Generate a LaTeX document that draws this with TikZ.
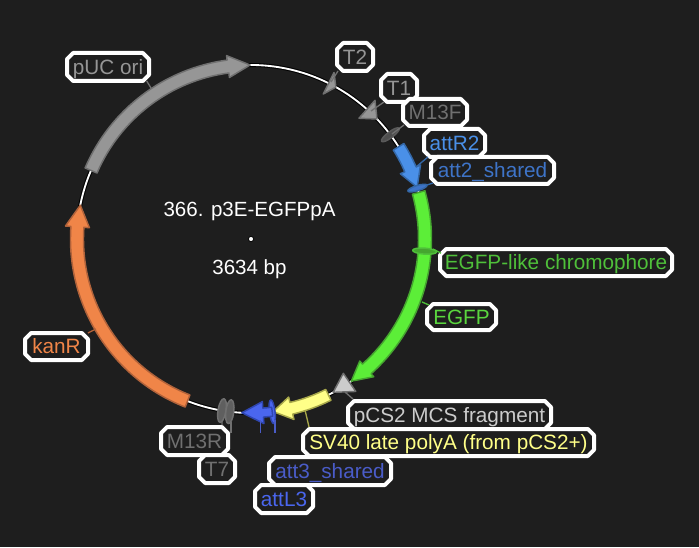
\documentclass[tikz,border=0pt]{standalone}
\usepackage{fontspec}
\setmainfont{Liberation Sans}
\usetikzlibrary{shapes.misc}
\definecolor{bgc}{HTML}{1E1E1E}
\definecolor{cGray}{HTML}{969696}\definecolor{cGrayD}{HTML}{707070}
\definecolor{cOrange}{HTML}{F08548}\definecolor{cOrangeD}{HTML}{B0623A}
\definecolor{cGreen}{HTML}{5CEE38}\definecolor{cGreenD}{HTML}{45A52F}
\definecolor{cGreenT}{HTML}{5AD63E}\definecolor{cGreenL}{HTML}{4FC03A}
\definecolor{cBlue}{HTML}{4A90E8}\definecolor{cBlueD}{HTML}{3468A8}\definecolor{cBlueS}{HTML}{3E74C8}
\definecolor{cYellow}{HTML}{FFFF88}\definecolor{cYellowD}{HTML}{A8A84A}
\definecolor{cInd}{HTML}{4A66EE}\definecolor{cIndD}{HTML}{2F46B0}\definecolor{cIndS}{HTML}{4A5CC8}
\definecolor{cLight}{HTML}{CCCCCC}
\tikzset{
  featline/.style={line width=1.1pt,line join=round},
  lab/.style={chamfered rectangle,chamfered rectangle xsep=2.3pt,chamfered rectangle ysep=2.3pt,
    draw=white,line width=3pt,fill=bgc,inner sep=0pt,text height=11pt,text depth=0pt,
    font=\fontsize{15.55}{18}\selectfont,line join=round},
  conn/.style={line width=1pt},
  centre/.style={text=white,font=\fontsize{15.4}{18}\selectfont,inner sep=0pt,text height=11pt,text depth=0pt}
}
\newcommand\feat[7]{% tail, base, tip, half width, head half width, fill, stroke
  \filldraw[featline,fill=#6,draw=#7]
    (#1:{174+#4}) arc[start angle=#1,end angle=#2,radius={174+#4}]
    -- (#2:{174+#5}) -- (#3:174) -- (#2:{174-#5}) -- (#2:{174-#4})
    arc[start angle=#2,end angle=#1,radius={174-#4}] -- cycle;}
\newcommand\tri[5]{% base, tip, head half width, fill, stroke
  \filldraw[featline,fill=#4,draw=#5] (#1:{174+#3}) -- (#2:174) -- (#1:{174-#3}) -- cycle;}
\newcommand\ellp[6]{% angle, radial half, tangential half, fill, stroke, radius
  \filldraw[featline,fill=#4,draw=#5,rotate around={#1:(#1:#6)}] (#1:#6) ellipse[x radius=#2,y radius=#3];}
\newcommand\lbl[7]{%
  \pgfmathsetmacro\boxw{(#4-#2-4)*.75}\pgfmathsetmacro\boxh{(#5-#3-4)*.75}%
  \node[lab,text=#6,minimum width=\boxw pt,minimum height=\boxh pt] (#1) at ({(#2+#4)/2},{(#3+#5)/2}) {#7};}
\begin{document}
\begin{tikzpicture}[x=.75pt,y=.75pt]
\useasboundingbox (0,0) rectangle (699,547);
\fill[bgc] (0,0) rectangle (699,547);
% plasmid, origin at the dot
\begin{scope}[shift={(251,308)}]
  \draw[black,line width=3pt] (0,0) circle[radius=174];
  \draw[white,line width=1.4pt] (0,0) circle[radius=174];
  \feat{156.8}{97.6}{90.3}{6.5}{11}{cGray}{cGrayD}
  \feat{248.6}{176}{168.8}{6.5}{12}{cOrange}{cOrangeD}
  \feat{15.5}{-48.3}{-54.8}{6.5}{10.5}{cGreen}{cGreenD}
  \feat{32}{23.6}{17.3}{6.2}{11}{cBlue}{cBlueD}
  \feat{-63.6}{-76.6}{-82.7}{6}{11.5}{cYellow}{cYellowD}
  \ellp{-83}{12}{2.8}{cInd}{cIndD}{174}
  \feat{-83}{-86}{-93}{4.5}{11}{cInd}{cIndD}
  \tri{63.5}{60.8}{12}{cGray}{cGrayD}
  \tri{48.2}{43.6}{12}{cGray}{cGrayD}
  \ellp{36.8}{11}{3}{cGrayD!70!black}{cGrayD!80!black}{174}
  \ellp{17}{10}{2.6}{cBlueS}{cBlueD}{174}
  \ellp{-4}{12}{3}{cGreenD}{cGreenL}{174}
  \tri{-55.5}{-61.8}{11}{cLight}{cGrayD}
  \ellp{-99.6}{12}{4}{cGrayD!85!black}{cGrayD}{174}
  \ellp{-97}{12}{4}{cGrayD!85!black}{cGrayD}{174}
  \fill[white,draw=black,line width=.6pt] (0,0) circle[radius=2.6];
\end{scope}
% everything below in reference pixel coordinates
\begin{scope}[y=-.75pt,yshift=547*.75pt]
  \node[centre] (title) at (249.5,209) {366. p3E-EGFPpA};
  \node[centre] (size) at (249.5,267.5) {3634 bp};
  \coordinate (fT2) at (331,82);
  \coordinate (fT1) at (371,111);
  \coordinate (fM13F) at (392,134);
  \coordinate (fAttR) at (416,167);
  \coordinate (fAtt2) at (427,185);
  \coordinate (fChrom) at (433,249);
  \coordinate (fEGFP) at (422,302);
  \coordinate (fPCS) at (345,392);
  \coordinate (fSV) at (305,410);
  \coordinate (fPUC) at (151,88);
  \coordinate (fKan) at (96,329);
  \coordinate (fL1) at (260.7,420);\coordinate (eL1) at (260.7,433);
  \coordinate (fL2) at (275,420);\coordinate (eL2) at (275,433);
  \coordinate (fT7) at (231,422);\coordinate (eT7) at (231,433);
  \coordinate (fM13R) at (222,421);
  \draw[conn,cIndS] (fL1) -- (eL1);
  \draw[conn,cIndS] (fL2) -- (eL2);
  \draw[conn,cGrayD] (fT7) -- (eT7);
  \lbl{lPUC}{65}{51}{151}{83}{cGray}{pUC ori}
  \lbl{lT2}{335}{41}{375}{73}{cGray}{T2}
  \lbl{lT1}{379}{72}{419}{104}{cGray}{T1}
  \lbl{lM13F}{401}{97}{469}{128}{cGrayD}{M13F}
  \lbl{lAttR}{422}{127}{487}{159}{cBlue}{attR2}
  \lbl{lAtt2}{429}{155}{556}{186}{cBlueS}{att2\_shared}
  \lbl{lChrom}{438}{247}{674}{278}{cGreenL}{EGFP-like chromophore}
  \lbl{lEGFP}{425}{302}{498}{332}{cGreenT}{EGFP}
  \lbl{lKan}{23}{331}{90}{362}{cOrange}{kanR}
  \lbl{lPCS}{346}{399}{553}{431}{cLight}{pCS2 MCS fragment}
  \lbl{lSV}{301}{427}{596}{458}{cYellow}{SV40 late polyA (from pCS2+)}
  \lbl{lAtt3}{267}{455}{393}{487}{cIndS}{att3\_shared}
  \lbl{lAttL}{253}{483}{315}{515}{cInd}{attL3}
  \lbl{lM13R}{159}{425}{230}{457}{cGrayD}{M13R}
  \lbl{lT7}{197}{453}{237}{485}{cGrayD}{T7}
  \draw[conn,cGrayD] (fT2) -- ([xshift=-12.75pt,yshift=1.5pt]lT2.south);
  \draw[conn,cGrayD] (fT1) -- ([xshift=-11.25pt,yshift=1.5pt]lT1.south);
  \draw[conn,cGrayD] (fM13F) -- ([xshift=-23.25pt,yshift=2.25pt]lM13F.south);
  \draw[conn,cBlueD] (fAttR) -- ([xshift=-19.9pt,yshift=1.5pt]lAttR.south);
  \draw[conn,cBlueD] (fAtt2) -- ([xshift=-44.6pt,yshift=2.25pt]lAtt2.south);
  \draw[conn,cGreenL] (fChrom) -- ([xshift=2.25pt,yshift=7pt]lChrom.west);
  \draw[conn,cGreenL] (fEGFP) -- ([xshift=3pt,yshift=9pt]lEGFP.west);
  \draw[conn,cGrayD] (fPCS) -- ([xshift=-72.4pt]lPCS.north);
  \draw[conn,cYellowD] (fSV) -- ([xshift=-104.6pt]lSV.north);
  \draw[conn,cGrayD] (fPUC) -- ([xshift=29pt,yshift=1.5pt]lPUC.south);
  \draw[conn,cOrangeD] (fKan) -- ([xshift=23.6pt,yshift=-1.5pt]lKan.north);
  \draw[conn,cGrayD] (fM13R) -- ([xshift=20.6pt]lM13R.north);
\end{scope}
\end{tikzpicture}
\end{document}
